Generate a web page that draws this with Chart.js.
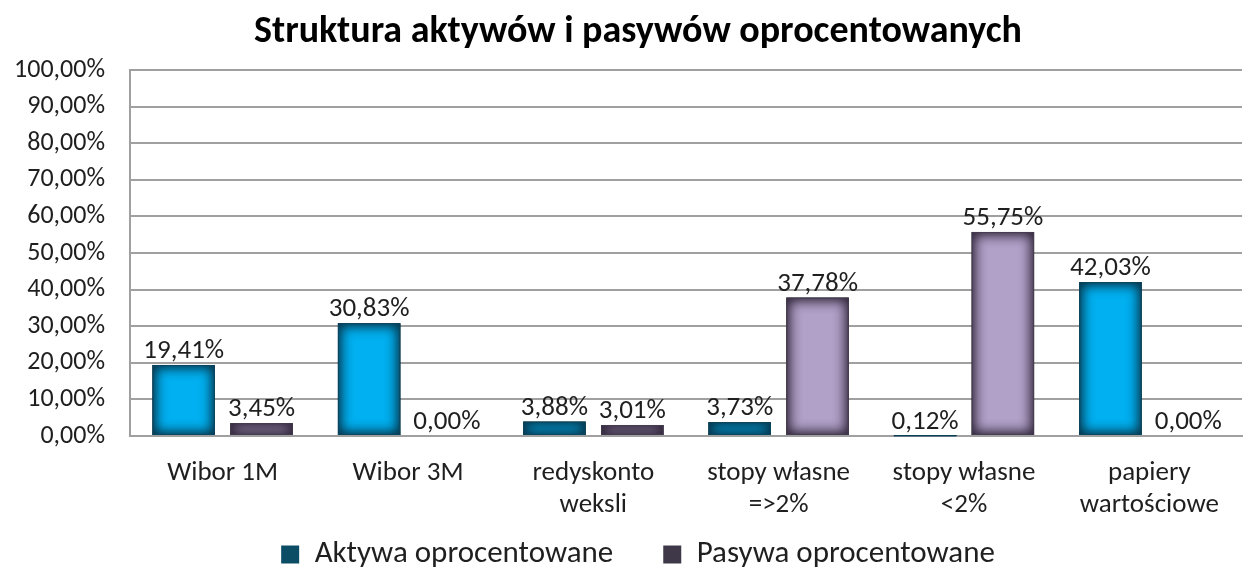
<!DOCTYPE html>
<html>
<head>
<meta charset="utf-8">
<script src="https://cdn.jsdelivr.net/npm/chart.js@4/dist/chart.umd.min.js"></script>
<style>
  html,body{margin:0;padding:0;background:#fff;}
  #wrap{width:1246px;height:571px;}
</style>
</head>
<body>
<div id="wrap"><canvas id="c" width="1246" height="571"></canvas></div>
<script>
const categories = [
  'Wibor 1M',
  'Wibor 3M',
  ['redyskonto', 'weksli'],
  ['stopy własne', '=>2%'],
  ['stopy własne', '<2%'],
  ['papiery', 'wartościowe']
];
const aktywa = [19.41, 30.83, 3.88, 3.73, 0.12, 42.03];
const pasywa = [3.45, 0.00, 3.01, 37.78, 55.75, 0.00];
const seriesNames = ['Aktywa oprocentowane', 'Pasywa oprocentowane'];
const yTicks = [0, 10, 20, 30, 40, 50, 60, 70, 80, 90, 100];

const FONT = "Carlito, Lato, 'Open Sans', sans-serif";
const fmt = v => v.toFixed(2).replace('.', ',') + '%';

const innerShadow = {
  id: 'innerShadow',
  afterDatasetsDraw(chart) {
    const ctx = chart.ctx;
    chart.data.datasets.forEach((ds, i) => {
      const meta = chart.getDatasetMeta(i);
      meta.data.forEach(bar => {
        const p = bar.getProps(['x', 'y', 'base', 'width'], true);
        const left = p.x - p.width / 2;
        const top = Math.min(p.y, p.base);
        const h = Math.abs(p.base - p.y);
        if (h < 0.3) return;
        ctx.save();
        ctx.beginPath();
        ctx.rect(left, top, p.width, Math.max(h, 1));
        ctx.clip();
        for (let k = 0; k < 2; k++) {
          ctx.shadowColor = ds.shadeColor;
          ctx.shadowBlur = 14;
          ctx.shadowOffsetX = 0;
          ctx.shadowOffsetY = 0;
          ctx.beginPath();
          ctx.rect(left - 200, top - 200, p.width + 400, h + 400);
          ctx.rect(left, top, p.width, h);
          ctx.fillStyle = '#000';
          ctx.fill('evenodd');
        }
        ctx.restore();
        ctx.save();
        ctx.strokeStyle = ds.edgeColor;
        ctx.lineWidth = 1;
        ctx.strokeRect(left + 0.5, top + 0.5, p.width - 1, Math.max(h - 1, 0.5));
        ctx.restore();
      });
    });
  }
};

const valueLabels = {
  id: 'valueLabels',
  afterDatasetsDraw(chart) {
    const ctx = chart.ctx;
    ctx.save();
    ctx.font = "27px " + FONT;
    ctx.fillStyle = '#1f1f1f';
    ctx.textAlign = 'center';
    ctx.textBaseline = 'alphabetic';
    chart.data.datasets.forEach((ds, i) => {
      const meta = chart.getDatasetMeta(i);
      meta.data.forEach((bar, j) => {
        ctx.fillText(fmt(ds.data[j]), bar.x, bar.y - 7);
      });
    });
    ctx.restore();
  }
};

const LEGEND_H = 45;
const LEGEND_TOP = 489;
const legendFit = {
  id: 'legendFit',
  beforeLayout(chart) {
    const lg = chart.legend;
    if (lg && !lg._fitPatched) {
      const orig = lg.fit.bind(lg);
      lg.fit = function () { orig(); this.height = LEGEND_H; };
      lg._fitPatched = true;
    }
  },
  afterLayout(chart) {
    const lg = chart.legend;
    if (lg) {
      lg.top = LEGEND_TOP;
      lg.bottom = chart.height;
      lg.height = chart.height - LEGEND_TOP;
    }
  }
};

new Chart(document.getElementById('c'), {
  type: 'bar',
  data: {
    labels: categories,
    datasets: [
      {
        label: seriesNames[0],
        data: aktywa,
        backgroundColor: '#00b0f0',
        borderWidth: 0,
        shadeColor: 'rgba(8,50,70,1)',
        edgeColor: 'rgba(10,70,95,0.9)',
        categoryPercentage: 0.84,
        barPercentage: 0.8
      },
      {
        label: seriesNames[1],
        data: pasywa,
        backgroundColor: '#b1a0c7',
        borderWidth: 0,
        shadeColor: 'rgba(45,35,55,1)',
        edgeColor: 'rgba(70,60,80,0.9)',
        categoryPercentage: 0.84,
        barPercentage: 0.8
      }
    ]
  },
  options: {
    responsive: false,
    animation: false,
    devicePixelRatio: 1,
    layout: { padding: { left: 16, right: -14, top: 0, bottom: 0 } },
    plugins: {
      title: {
        display: true,
        text: 'Struktura aktywów i pasywów oprocentowanych',
        color: '#000',
        font: { family: FONT, size: 38, weight: 'bold' },
        padding: { top: 10, bottom: 14.4 }
      },
      legend: {
        position: 'bottom',
        labels: {
          color: '#1f1f1f',
          font: { family: FONT, size: 31 },
          boxWidth: 18,
          boxHeight: 18,
          padding: 50,
          generateLabels(chart) {
            const cols = ['#0c4d66', '#3f3849'];
            return chart.data.datasets.map((ds, i) => ({
              text: ds.label,
              fillStyle: cols[i],
              strokeStyle: cols[i],
              lineWidth: 0,
              datasetIndex: i,
              fontColor: '#1f1f1f'
            }));
          }
        }
      },
      tooltip: { enabled: false }
    },
    scales: {
      x: {
        afterFit(scale) { scale.height = 90; },
        grid: { display: false, drawTicks: false },
        border: { display: true, color: '#a0a0a0', width: 2 },
        ticks: {
          color: '#1f1f1f',
          font: { family: FONT, size: 27, lineHeight: 1.19 },
          padding: 21,
          maxRotation: 0,
          autoSkip: false
        }
      },
      y: {
        min: 0,
        max: 100,
        afterBuildTicks(scale) { scale.ticks = yTicks.map(v => ({ value: v })); },
        afterFit(scale) { scale.width = 114; },
        grid: { color: '#a0a0a0', lineWidth: 2, drawTicks: false },
        border: { display: true, color: '#a0a0a0', width: 2 },
        ticks: {
          color: '#1f1f1f',
          font: { family: FONT, size: 26 },
          padding: 25,
          callback: v => fmt(v)
        }
      },
      yRight: {
        position: 'right',
        display: true,
        afterFit(scale) { scale.width = 18; },
        grid: { display: false, drawTicks: false },
        border: { display: false },
        ticks: { display: false }
      }
    }
  },
  plugins: [legendFit, innerShadow, valueLabels]
});
</script>
</body>
</html>
